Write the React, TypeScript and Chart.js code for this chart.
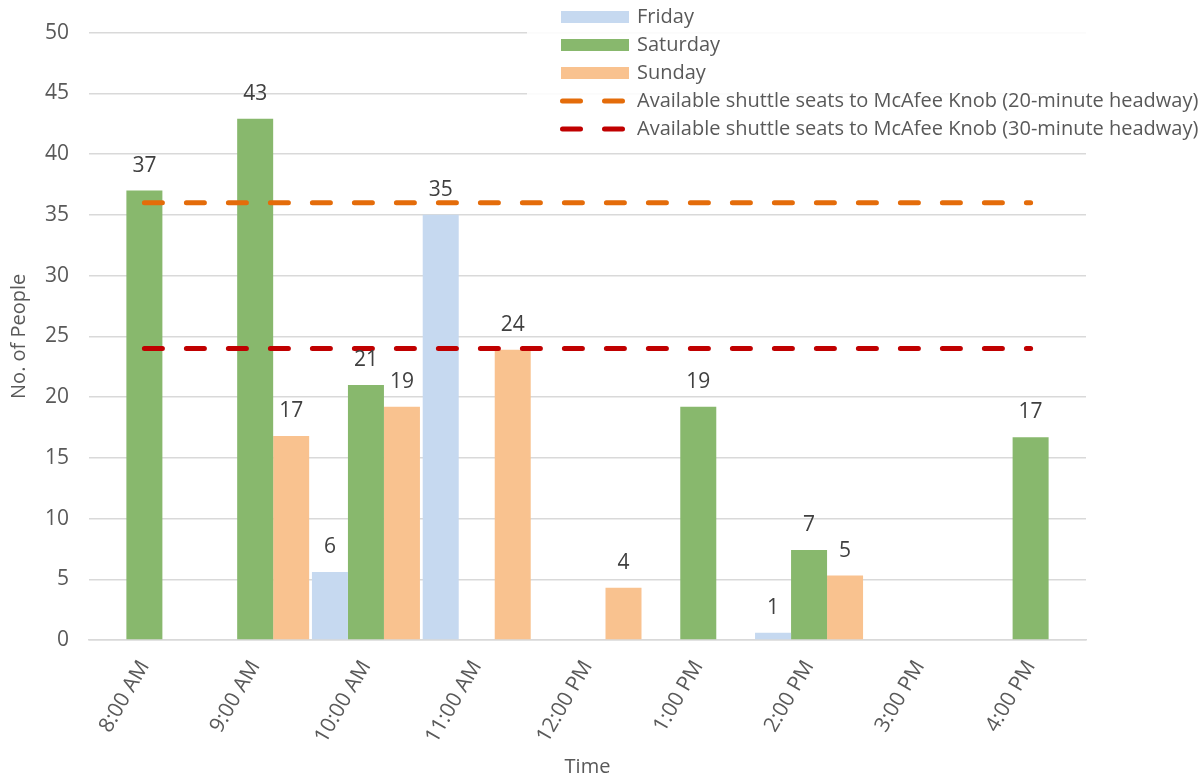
import React, { useEffect, useRef } from "react";
import { Chart, registerables } from "chart.js";

Chart.register(...registerables);

// Hourly counts of people at the trailhead, by day
const times = ["8:00 AM", "9:00 AM", "10:00 AM", "11:00 AM", "12:00 PM", "1:00 PM", "2:00 PM", "3:00 PM", "4:00 PM"];
const friday = [null, null, 5.6, 35, null, null, 0.6, null, -0.2];
const saturday = [37, 42.9, 21, null, null, 19.2, 7.4, null, 16.7];
const sunday = [null, 16.8, 19.2, 23.9, 4.3, null, 5.3, null, null];
// Shuttle capacity per hour
const seats20min = [36, 36, 36, 36, 36, 36, 36, 36, 36];
const seats30min = [24, 24, 24, 24, 24, 24, 24, 24, 24];
const yTicks = [0, 50, 5];

const FONT = "'Open Sans', 'Segoe UI', sans-serif";
const TEXT = "#595959";
const COLORS = {
  friday: "#C6D9F0",
  saturday: "#88B86D",
  sunday: "#F9C28F",
  seats20: "#E46C0A",
  seats30: "#C00000",
};

const legendItems = [
  { label: "Friday", color: COLORS.friday, kind: "box" },
  { label: "Saturday", color: COLORS.saturday, kind: "box" },
  { label: "Sunday", color: COLORS.sunday, kind: "box" },
  { label: "Available shuttle seats to McAfee Knob (20-minute headway)", color: COLORS.seats20, kind: "line" },
  { label: "Available shuttle seats to McAfee Knob (30-minute headway)", color: COLORS.seats30, kind: "line" },
];

// Rounded value labels above each positive bar
const barLabels = {
  id: "barLabels",
  afterDatasetsDraw(chart: any) {
    const ctx = chart.ctx;
    ctx.save();
    ctx.font = `21px ${FONT}`;
    ctx.fillStyle = "#404040";
    ctx.textAlign = "center";
    ctx.textBaseline = "middle";
    chart.data.datasets.forEach((ds: any, i: number) => {
      if (ds.type === "line") return;
      const meta = chart.getDatasetMeta(i);
      meta.data.forEach((el: any, j: number) => {
        const v = ds.data[j];
        if (v == null || v <= 0) return;
        ctx.fillText(String(Math.round(v)), el.x, el.y - 25);
      });
    });
    ctx.restore();
  },
};

// Legend panel in the upper right of the plot
const cornerLegend = {
  id: "cornerLegend",
  afterDraw(chart: any) {
    const ctx = chart.ctx;
    ctx.save();
    ctx.fillStyle = "rgba(255,255,255,0.88)";
    ctx.fillRect(527, 0, 560, 140);
    ctx.font = `20px ${FONT}`;
    ctx.textBaseline = "middle";
    ctx.textAlign = "left";
    legendItems.forEach((it, k) => {
      const y = 17 + k * 28;
      if (it.kind === "box") {
        ctx.fillStyle = it.color;
        ctx.fillRect(561, y - 6, 68, 12);
      } else {
        ctx.strokeStyle = it.color;
        ctx.lineWidth = 5;
        ctx.lineCap = "round";
        ctx.setLineDash([18, 24]);
        ctx.beginPath();
        ctx.moveTo(562.5, y);
        ctx.lineTo(627.5, y);
        ctx.stroke();
        ctx.setLineDash([]);
      }
      ctx.fillStyle = TEXT;
      ctx.fillText(it.label, 637, y);
    });
    ctx.restore();
  },
};

export default function App() {
  const ref = useRef<HTMLCanvasElement>(null);

  useEffect(() => {
    if (!ref.current) return;
    const barCommon = { type: "bar", order: 1, categoryPercentage: 0.975, barPercentage: 1 };
    const lineCommon = {
      type: "line",
      order: 0,
      borderWidth: 5,
      borderDash: [18, 24],
      borderCapStyle: "round",
      pointRadius: 0,
      fill: false,
    };
    const chart = new Chart(ref.current, {
      type: "bar",
      data: {
        labels: times,
        datasets: [
          { ...barCommon, label: "Friday", data: friday, backgroundColor: COLORS.friday },
          { ...barCommon, label: "Saturday", data: saturday, backgroundColor: COLORS.saturday },
          { ...barCommon, label: "Sunday", data: sunday, backgroundColor: COLORS.sunday },
          { ...lineCommon, label: legendItems[3].label, data: seats20min, borderColor: COLORS.seats20 },
          { ...lineCommon, label: legendItems[4].label, data: seats30min, borderColor: COLORS.seats30 },
        ] as any,
      },
      options: {
        animation: false,
        responsive: false,
        layout: { padding: { top: 32, right: 118, left: 0, bottom: 0 } },
        plugins: { legend: { display: false }, tooltip: { enabled: false } },
        scales: {
          x: {
            grid: { display: false },
            border: { display: true, color: "#D9D9D9", width: 1.5 },
            ticks: {
              color: TEXT,
              font: { family: FONT, size: 21 },
              minRotation: 60,
              maxRotation: 60,
              padding: 8,
            },
            title: {
              display: true,
              text: "Time",
              color: TEXT,
              font: { family: FONT, size: 20 },
              padding: { top: 0, bottom: 3 },
            },
            afterFit(scale: any) {
              scale.height = 142;
            },
          },
          y: {
            min: yTicks[0],
            max: yTicks[1],
            grid: { color: "#D9D9D9", lineWidth: 1.5, drawTicks: false },
            border: { display: false },
            ticks: {
              stepSize: yTicks[2],
              color: TEXT,
              font: { family: FONT, size: 21 },
              padding: 20,
            },
            title: {
              display: true,
              text: "No. of People",
              color: TEXT,
              font: { family: FONT, size: 20 },
              padding: { top: 7, bottom: 0 },
            },
            afterFit(scale: any) {
              scale.width = 89;
            },
          },
        },
      },
      plugins: [barLabels, cornerLegend],
    } as any);
    return () => chart.destroy();
  }, []);

  return (
    <div style={{ position: "fixed", left: 0, top: 0, width: 1204, height: 782, background: "#fff" }}>
      <canvas ref={ref} width={1204} height={782} style={{ display: "block" }} />
    </div>
  );
}
